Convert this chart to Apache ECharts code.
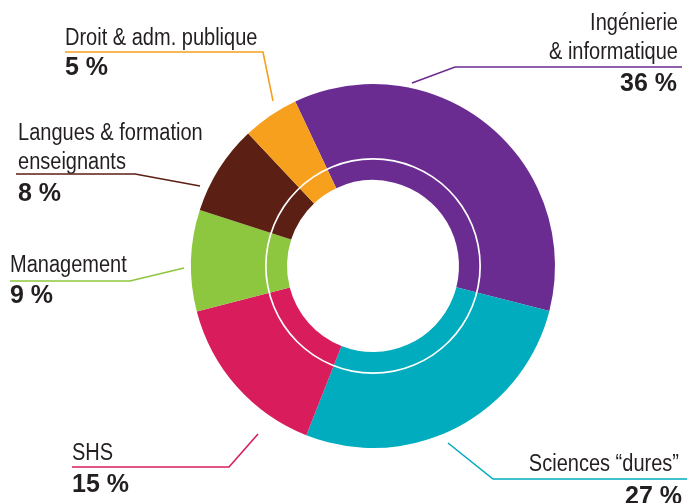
<!DOCTYPE html>
<html>
<head>
<meta charset="utf-8">
<script src="https://cdn.jsdelivr.net/npm/echarts@6/dist/echarts.min.js"></script>
<style>
html,body{margin:0;padding:0;background:#fff;}
#c{width:687px;height:503px;}
</style>
</head>
<body>
<div id="c"></div>
<script>
// ---- data ----
const categories = ['Ingénierie\n& informatique', 'Sciences “dures”', 'SHS', 'Management', 'Langues & formation\nenseignants', 'Droit & adm. publique'];
const shares = [36, 27, 15, 9, 8, 5];
const colors = ['#6b2c91', '#00acbd', '#d91c5c', '#8dc63f', '#5b2013', '#f6a01e'];

// ---- callout layout (annotation positions, not data) ----
// align: text side; tx: name text edge; nb: first name baseline; vx: value edge; vb: value baseline; pts: leader line
const callouts = [
  {align: 'right', tx: 678, nb: 32,  vx: 677, vb: 93,  pts: [[412, 83], [455, 67], [682, 67]]},
  {align: 'right', tx: 679, nb: 473, vx: 682, vb: 506, pts: [[448, 443], [493, 479], [687, 479]]},
  {align: 'left',  tx: 72,  nb: 462, vx: 72,  vb: 494, pts: [[258, 434], [229, 467], [72, 467]]},
  {align: 'left',  tx: 10,  nb: 274, vx: 10,  vb: 305, pts: [[184, 268], [130, 281], [10, 281]]},
  {align: 'left',  tx: 18,  nb: 142, vx: 18,  vb: 203, pts: [[200, 186], [135, 174], [16, 174]]},
  {align: 'left',  tx: 65,  nb: 47,  vx: 65,  vb: 77,  pts: [[273, 101], [263, 52], [65, 52]]}
];

const NAME_SIZE = 23;
const NAME_STEP = 28.5;
const NAME_SCALE = 0.87;
const VAL_SIZE = 25;
const VAL_LH = 31.4;
const TEXT_COLOR = '#231f20';
const FONT = "'Liberation Sans', Arial, sans-serif";

const chart = echarts.init(document.getElementById('c'), null, {renderer: 'canvas'});

const pieData = categories.map((c, i) => ({
  name: c,
  value: shares[i],
  itemStyle: {color: colors[i]},
  labelLine: {lineStyle: {color: colors[i], width: 1.6}}
}));

// category name texts (condensed look via horizontal scale)
const nameGraphics = [];
categories.forEach((c, i) => {
  const co = callouts[i];
  c.split('\n').forEach((line, k) => {
    const baseline = co.nb + k * NAME_STEP;
    nameGraphics.push({
      type: 'text',
      x: co.tx,
      y: baseline - 0.35 * NAME_SIZE,
      scaleX: NAME_SCALE,
      silent: true,
      style: {
        text: line,
        font: NAME_SIZE + 'px ' + FONT,
        fill: TEXT_COLOR,
        align: co.align,
        verticalAlign: 'middle'
      }
    });
  });
});

chart.setOption({
  backgroundColor: '#ffffff',
  animation: false,
  graphic: nameGraphics,
  series: [
    {
      type: 'pie',
      center: [373, 266],
      radius: [86, 182],
      startAngle: 115.3,
      clockwise: true,
      avoidLabelOverlap: false,
      silent: true,
      data: pieData,
      label: {
        show: true,
        position: 'outside',
        color: TEXT_COLOR,
        formatter: function (p) { return '{v|' + p.value + ' %}'; },
        rich: {
          v: {fontSize: VAL_SIZE, lineHeight: VAL_LH, fontWeight: 'bold', fontFamily: FONT, color: TEXT_COLOR}
        }
      },
      labelLine: {show: true, length: 10, length2: 10, smooth: false},
      labelLayout: function (params) {
        const co = callouts[params.dataIndex];
        return {
          x: co.vx,
          y: co.vb - 0.35 * VAL_SIZE - VAL_LH / 2,
          align: co.align,
          verticalAlign: 'top',
          labelLinePoints: co.pts
        };
      }
    },
    {
      type: 'pie',
      center: [373, 266],
      radius: [106.3, 108],
      silent: true,
      label: {show: false},
      labelLine: {show: false},
      data: [{value: 1, itemStyle: {color: '#ffffff'}}]
    }
  ]
});
</script>
</body>
</html>
